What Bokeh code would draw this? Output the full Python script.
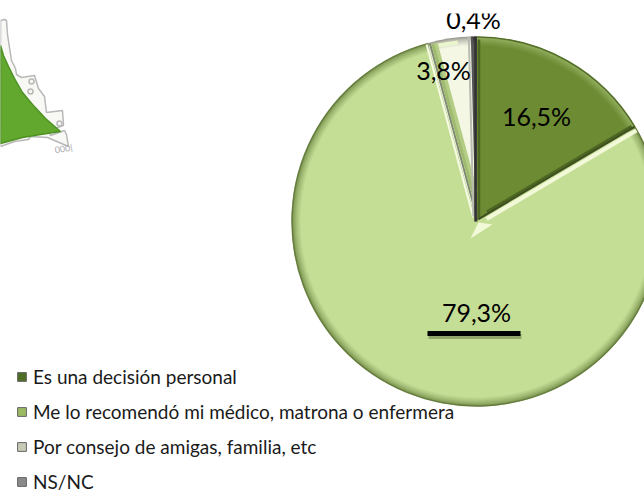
import math
from bokeh.plotting import figure
from bokeh.models import Legend, LegendItem, Range1d
from bokeh.embed import file_html
from bokeh.resources import INLINE
from bokeh.core.properties import value

categories = ["Es una decisión personal",
              "Me lo recomendó mi médico, matrona o enfermera",
              "Por consejo de amigas, familia, etc",
              "NS/NC"]
values = [16.5, 79.3, 3.8, 0.4]
value_labels = ["16,5%", "79,3%", "3,8%", "0,4%"]
base_colors = ["#6c8b33", "#c5de96", "#f3f7e4", "#5a5a5a"]
rim_colors = ["#9db86a", "#6f8845", "#9a9a90", "#333333"]
swatch_colors = ["#4f6d24", "#9cba62", "#c6cbb8", "#8a8a8a"]

W, H = 644, 493
FONT = "Lato"
CX, CY, R = 476, H - 221, 185


def Y(y):
    return H - y


def mix(a, b, t):
    ca = [int(a[i:i + 2], 16) for i in (1, 3, 5)]
    cb = [int(b[i:i + 2], 16) for i in (1, 3, 5)]
    return "#%02x%02x%02x" % tuple(round(x + (y - x) * t) for x, y in zip(ca, cb))


p = figure(width=W, height=H, output_backend="svg", toolbar_location=None,
           x_range=Range1d(0, W), y_range=Range1d(0, H), min_border=0,
           outline_line_color=None, background_fill_color="white")
p.axis.visible = False
p.grid.visible = False

# --- map decoration (top left)
coast_x = [0, 4, 6, 7, 11, 15, 16, 21, 34, 38, 44, 46, 62, 63, 48, 50, 64, 66, 68, 47, 30, 28, 14, 0]
coast_y = [20, 19, 20, 34, 60, 68, 74, 77, 75, 88, 96, 112, 110, 125, 130, 135, 130, 134, 146, 137, 136, 139, 141, 146]
p.patch(coast_x, [Y(v) for v in coast_y], fill_color="#f8f9f5", line_color="#b8b8b8", line_width=1.5)
p.scatter([31, 30, 59], [Y(81), Y(91), Y(123)], size=5, fill_color="#f8f9f5", line_color="#b8b8b8", line_width=1.5)
green_x = [0, 3, 8, 14, 22, 32, 45, 60, 40, 22, 0]
green_y = [45, 55, 66, 78, 92, 104, 118, 131, 134, 137, 143]
p.patch(green_x, [Y(v) for v in green_y], fill_color="#62a72e", line_color="#4f9224", line_width=1.5)
p.text([63], [Y(148)], text=["000|"], text_font=value(FONT), text_font_size="9px",
       text_color="#aaaaaa", text_align="center", text_baseline="middle", angle=0.15)

# --- pie slices through cumulative values
total = sum(values)
cum = [0]
for v in values:
    cum.append(cum[-1] + v)
ang = [math.pi / 2 - 2 * math.pi * c / total for c in cum]
RIM = 9
for i, (v, base, rim) in enumerate(zip(values, base_colors, rim_colors)):
    for k in range(RIM + 1):
        p.wedge(CX, CY, radius=R - k, start_angle=ang[i + 1], end_angle=ang[i],
                direction="anticlock", fill_color=mix(rim, base, (k / RIM) ** 0.7),
                line_color=None)

# rim accents
p.arc(CX, CY, radius=R - 0.5, start_angle=ang[1], end_angle=ang[0], direction="anticlock",
      line_color="#55702a", line_width=1.5)
p.arc(CX, CY, radius=R - 0.5, start_angle=ang[2], end_angle=ang[1], direction="anticlock",
      line_color="#5f7636", line_width=1.5, line_alpha=0.7)
p.arc(CX, CY, radius=R - 5, start_angle=ang[2] - 0.16, end_angle=ang[2], direction="anticlock",
      line_color="#eaf5cc", line_width=4)

# --- bevels along the slice borders
def edge(theta, off, r0, r1, color, width):
    nx, ny = -math.sin(theta), math.cos(theta)
    x0 = CX + r0 * math.cos(theta) + off * nx
    y0 = CY + r0 * math.sin(theta) + off * ny
    x1 = CX + r1 * math.cos(theta) + off * nx
    y1 = CY + r1 * math.sin(theta) + off * ny
    p.segment([x0], [y0], [x1], [y1], line_color=color, line_width=width, line_cap="butt")

edge(ang[0], -2.5, 3, R - 3, "#4c6622", 2.5)
edge(ang[1], 3, 14, R - 3, "#4c6622", 3)
edge(ang[1], 1, 3, R - 1, "#3f4f22", 2)
edge(ang[1], -3, 10, R - 1, "#f2f9d8", 4)
# flare of the highlight at the centre of the pie
p.patch([CX - 6, CX + 16, CX + 2], [CY - 17, CY - 3, CY - 1], fill_color="#f2f9d8", line_color=None)
edge(ang[2], 2, 5, R - 1, "#f7fbe6", 2)
edge(ang[2], -1.5, 5, R - 1, "#7d8a70", 2)
edge(ang[2], -7, 30, R - 2, "#b3cd85", 4)
edge(ang[2], -4, 18, R - 2, "#a0ba70", 3)
edge(ang[3], 0, 0, R, "#555555", 2)
edge(ang[3], 3, 5, R, "#b9bcb0", 2)
edge(ang[0], 1, 0, R, "#333333", 2.5)

# --- value labels
lab_x = [536, 476, 443, 473]
lab_y = [115, 311, 69, 18]
p.text(lab_x, [Y(v) for v in lab_y], text=value_labels, text_font=value(FONT),
       text_font_size="25px", text_color="#000000", text_align="center", text_baseline="middle")
# leader bar
p.line([428, 521], [Y(336), Y(336)], line_color="#33401a", line_alpha=0.35, line_width=5)
p.line([427, 520], [Y(333), Y(333)], line_color="#000000", line_width=5)
# top clipping of the chart area
p.quad(left=[0], right=[W], bottom=[Y(13)], top=[H], fill_color="white", line_color=None)

# --- legend with swatch renderers
items = []
for c, col in zip(categories, swatch_colors):
    r = p.quad(left=[-50], right=[-40], bottom=[-50], top=[-40], fill_color=col, line_color="#666666")
    items.append(LegendItem(label=c, renderers=[r]))
legend = Legend(items=items, location=(16, 0), padding=0, margin=0, spacing=12,
                glyph_width=11, glyph_height=11, label_height=19, label_standoff=6,
                label_text_font=FONT, label_text_font_size="19px", label_text_color="#1a1a1a",
                background_fill_alpha=0, border_line_color=None)
p.add_layout(legend, "center")

open("out.html", "w").write(file_html(p, INLINE))
